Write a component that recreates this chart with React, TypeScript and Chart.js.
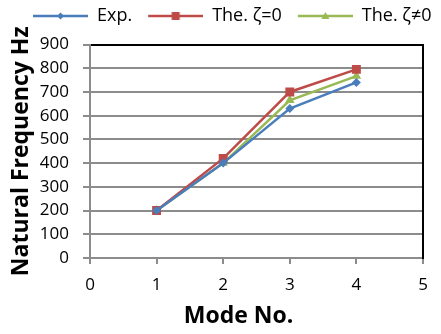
import React, { useEffect, useRef } from "react";
import { Chart, registerables } from "chart.js";

Chart.register(...registerables);

const modes = [1, 2, 3, 4];
const expValues = [200, 400, 630, 740];
const theoryZeta0 = [200, 420, 700, 795];
const theoryZetaNon0 = [200, 400, 665, 767];
const seriesLabels = ["Exp.", "The. ζ=0", "The. ζ≠0"];
const seriesColors = ["#4A7EBB", "#BE4B48", "#98B954"];
const seriesPointStyles = ["rectRot", "rect", "triangle"];
const seriesPointRadii = [4.5, 6.3, 5.5];
const xTitle = "Mode No.";
const yTitle = "Natural Frequency Hz";
const xMin = 0;
const xMax = 5;
const yMin = 0;
const yMax = 900;

const FONT = "'Open Sans', 'DejaVu Sans', sans-serif";
const LEGEND_MARGIN = 9;
const LEGEND_LINE = 55;

function makeLegendImage(color: string, style: string): HTMLCanvasElement {
  const c = document.createElement("canvas");
  c.width = LEGEND_MARGIN + LEGEND_LINE;
  c.height = 18;
  const ctx = c.getContext("2d")!;
  const cy = 9;
  ctx.strokeStyle = color;
  ctx.fillStyle = color;
  ctx.lineWidth = 2.5;
  ctx.beginPath();
  ctx.moveTo(LEGEND_MARGIN, cy);
  ctx.lineTo(LEGEND_MARGIN + LEGEND_LINE, cy);
  ctx.stroke();
  const cx = LEGEND_MARGIN + LEGEND_LINE / 2;
  ctx.beginPath();
  if (style === "rectRot") {
    const r = 3.5;
    ctx.moveTo(cx, cy - r);
    ctx.lineTo(cx + r, cy);
    ctx.lineTo(cx, cy + r);
    ctx.lineTo(cx - r, cy);
  } else if (style === "rect") {
    ctx.rect(cx - 4, cy - 4, 8, 8);
  } else {
    ctx.moveTo(cx, cy - 4);
    ctx.lineTo(cx + 4, cy + 3);
    ctx.lineTo(cx - 4, cy + 3);
  }
  ctx.closePath();
  ctx.fill();
  return c;
}

export default function App() {
  const canvasRef = useRef<HTMLCanvasElement | null>(null);

  useEffect(() => {
    document.body.style.margin = "0";
    const canvas = canvasRef.current;
    if (!canvas) return;
    const series = [expValues, theoryZeta0, theoryZetaNon0];
    const legendImages = seriesColors.map((c, i) => makeLegendImage(c, seriesPointStyles[i]));

    const chart = new Chart(canvas, {
      type: "line",
      data: {
        datasets: series.map((vals, i) => ({
          label: seriesLabels[i],
          data: modes.map((m, j) => ({ x: m, y: vals[j] })),
          borderColor: seriesColors[i],
          backgroundColor: seriesColors[i],
          pointBackgroundColor: seriesColors[i],
          pointBorderColor: seriesColors[i],
          pointStyle: seriesPointStyles[i] as any,
          pointRadius: seriesPointRadii[i],
          pointBorderWidth: 0,
          borderWidth: 2.5,
          tension: 0,
          fill: false,
        })),
      },
      options: {
        responsive: false,
        animation: false,
        layout: { padding: { left: 17, right: -19, top: 0, bottom: 0 } },
        plugins: {
          tooltip: { enabled: false },
          legend: {
            display: true,
            position: "top",
            align: "start",
            labels: {
              usePointStyle: true,
              pointStyleWidth: LEGEND_MARGIN + LEGEND_LINE,
              padding: 7,
              color: "#000",
              font: { family: FONT, size: 18 },
              generateLabels: (ch: any) => {
                const items = Chart.defaults.plugins.legend.labels.generateLabels(ch);
                return items.map((it: any, i: number) => ({ ...it, pointStyle: legendImages[i] }));
              },
            },
          },
          title: {
            display: true,
            position: "bottom",
            text: xTitle,
            color: "#000",
            font: { family: FONT, size: 23, weight: "bold" },
            padding: { top: 0, bottom: 4 },
          },
        },
        scales: {
          x: {
            type: "linear",
            position: "bottom",
            min: xMin,
            max: xMax,
            afterFit: (s: any) => {
              s.height = 44.4;
            },
            ticks: {
              stepSize: 1,
              autoSkip: false,
              color: "#000",
              padding: 11,
              font: { family: FONT, size: 17 },
            },
            grid: { display: true, drawOnChartArea: false, drawTicks: true, tickLength: 6, color: "#8c8c8c", lineWidth: 2 },
            border: { display: true, color: "#8c8c8c", width: 2 },
          },
          x2: {
            type: "linear",
            position: "top",
            min: xMin,
            max: xMax,
            afterFit: (s: any) => {
              s.height = 9.5;
            },
            ticks: { display: false },
            grid: { display: false, drawOnChartArea: false, drawTicks: false },
            border: { display: true, color: "#000", width: 2 },
          },
          y: {
            type: "linear",
            position: "left",
            min: yMin,
            max: yMax,
            afterFit: (s: any) => {
              s.width = 73;
            },
            ticks: {
              stepSize: 100,
              autoSkip: false,
              color: "#000",
              padding: 14,
              font: { family: FONT, size: 17 },
            },
            title: {
              display: true,
              text: yTitle,
              color: "#000",
              font: { family: FONT, size: 23, weight: "bold" },
              padding: { top: -9, bottom: 0 },
            },
            grid: { display: true, drawOnChartArea: true, drawTicks: true, tickLength: 7, color: "#8c8c8c", lineWidth: 2 },
            border: { display: true, color: "#8c8c8c", width: 2 },
          },
          y2: {
            type: "linear",
            position: "right",
            min: yMin,
            max: yMax,
            afterFit: (s: any) => {
              s.width = 37;
            },
            ticks: { display: false },
            grid: { display: false, drawOnChartArea: false, drawTicks: false },
            border: { display: true, color: "#000", width: 2 },
          },
        },
      },
    } as any);
    return () => {
      chart.destroy();
    };
  }, []);

  return (
    <div style={{ position: "absolute", left: 0, top: 0, width: 441, height: 334, background: "#fff" }}>
      <canvas ref={canvasRef} width={441} height={334} style={{ display: "block" }} />
    </div>
  );
}
